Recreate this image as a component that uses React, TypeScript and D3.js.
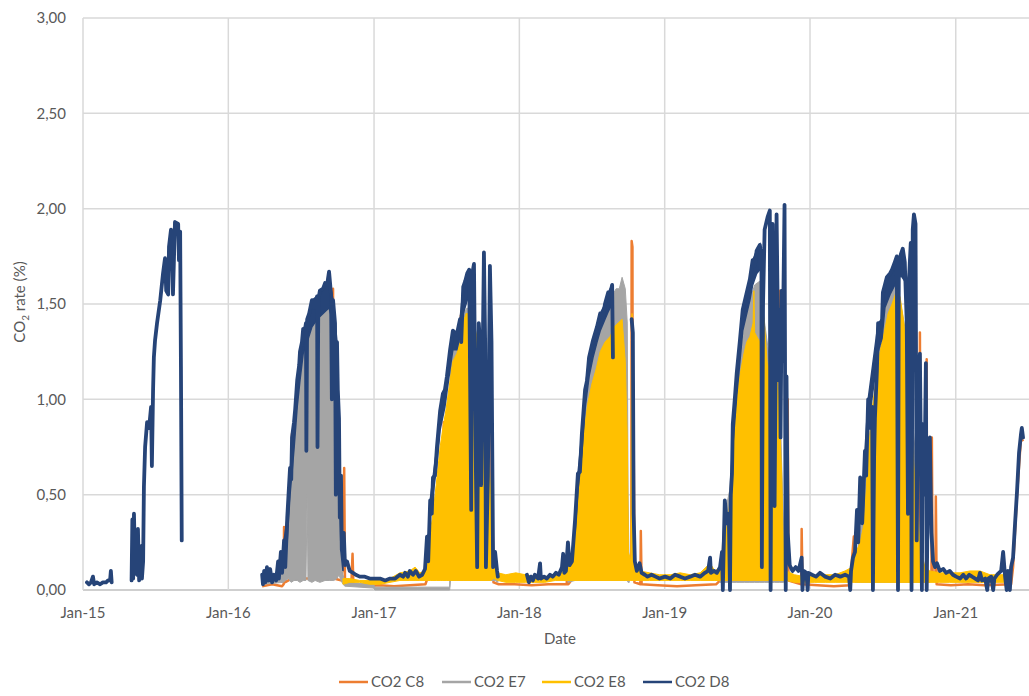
import * as d3 from 'd3';

type Pt = [string, number | null];
type Band = [string, number | null, number | null];

// legend / series names
const seriesNames = ['CO2 C8', 'CO2 E7', 'CO2 E8', 'CO2 D8'];
const seriesColors = ['#ED7D31', '#A5A5A5', '#FFC000', '#264478'];
const yTickValues = [0, 0.5, 1, 1.5, 2, 2.5, 3];
const xTickDates = ['2015-01-01', '2016-01-01', '2017-01-01', '2018-01-01', '2019-01-01', '2020-01-01', '2021-01-01'];

// CO2 C8 (orange): mostly a low baseline with a few spikes showing
const orangeC8: Pt[] = [
  ['2016-03-26', 0.02], ['2016-04-20', 0.03], ['2016-05-15', 0.02], ['2016-05-19', 0.03], ['2016-05-20', 0.33], ['2016-05-22', 0.04],
  ['2016-06-08', 0.06], ['2016-06-09', 0.82], ['2016-06-11', 0.06], ['2016-09-18', 0.06], ['2016-09-20', 1.58], ['2016-09-22', 0.06],
  ['2016-10-12', 0.05], ['2016-10-14', 0.55], ['2016-10-16', 0.10], ['2016-10-18', 0.64], ['2016-10-20', 0.04], ['2016-11-05', 0.03],
  ['2016-11-08', 0.19], ['2016-11-10', 0.03], ['2016-12-10', 0.02], ['2017-01-15', 0.025], ['2017-02-20', 0.02], ['2017-04-01', 0.025],
  ['2017-05-10', 0.03], ['2017-05-15', 0.06], ['2017-06-24', 0.06], ['2017-06-25', 0.88], ['2017-06-27', 0.06], ['2017-08-06', 0.06],
  ['2017-08-07', 1.44], ['2017-08-09', 0.06], ['2017-10-16', 0.06], ['2017-10-17', 1.12], ['2017-10-19', 0.06], ['2017-10-25', 0.06],
  ['2017-10-26', 0.35], ['2017-10-28', 0.04], ['2017-11-10', 0.03], ['2017-12-20', 0.03], ['2018-02-01', 0.025], ['2018-03-15', 0.03],
  ['2018-04-30', 0.03], ['2018-05-02', 0.25], ['2018-05-04', 0.03], ['2018-05-15', 0.06], ['2018-10-09', 0.06], ['2018-10-10', 1.83],
  ['2018-10-12', 1.80], ['2018-10-13', 0.06], ['2018-10-15', 0.79], ['2018-10-17', 0.04], ['2018-11-01', 0.03], ['2018-11-02', 0.31],
  ['2018-11-04', 0.03], ['2018-12-15', 0.025], ['2019-02-01', 0.02], ['2019-03-20', 0.025], ['2019-05-10', 0.03], ['2019-05-25', 0.06],
  ['2019-09-28', 0.06], ['2019-09-29', 1.73], ['2019-09-30', 0.06], ['2019-10-16', 0.06], ['2019-10-17', 1.57], ['2019-10-18', 0.06],
  ['2019-11-05', 0.28], ['2019-11-06', 1.00], ['2019-11-08', 0.05], ['2019-12-10', 0.03], ['2019-12-11', 0.32], ['2019-12-13', 0.03],
  ['2020-01-20', 0.025], ['2020-03-01', 0.02], ['2020-04-10', 0.025], ['2020-04-20', 0.28], ['2020-04-22', 0.06], ['2020-09-24', 0.06],
  ['2020-09-25', 1.00], ['2020-09-27', 0.06], ['2020-10-02', 0.06], ['2020-10-03', 1.35], ['2020-10-05', 0.06], ['2020-10-19', 0.06],
  ['2020-10-20', 1.21], ['2020-10-21', 0.06], ['2020-11-01', 0.05], ['2020-11-02', 0.80], ['2020-11-04', 0.05], ['2020-11-11', 0.05],
  ['2020-11-12', 0.49], ['2020-11-14', 0.03], ['2020-12-20', 0.025], ['2021-02-01', 0.03], ['2021-03-15', 0.025], ['2021-05-20', 0.03],
  ['2021-05-25', 0.12], ['2021-06-04', 0.50], ['2021-06-14', 0.80], ['2021-06-19', 0.78],
];

// CO2 E7 (grey): daily swing, kept as [date, low, high]
const grayE7: Band[] = [
  ['2016-03-26', 0.03, 0.06], ['2016-05-18', 0.04, 0.10], ['2016-05-23', 0.05, 0.22], ['2016-05-31', 0.06, 0.45], ['2016-06-07', 0.04, 0.58],
  ['2016-06-14', 0.05, 0.75], ['2016-06-22', 0.05, 0.96], ['2016-06-29', 0.04, 1.10], ['2016-07-07', 0.05, 1.24], ['2016-07-14', 0.05, 1.30],
  ['2016-07-17', 0.50, 1.32], ['2016-07-19', 0.05, 1.33], ['2016-07-29', 0.04, 1.38], ['2016-08-06', 0.05, 1.42], ['2016-08-18', 0.04, 1.44],
  ['2016-08-31', 0.05, 1.47], ['2016-09-12', 0.05, 1.48], ['2016-09-22', 0.05, 1.40], ['2016-09-30', 0.06, 1.10], ['2016-10-05', 0.08, 0.60],
  ['2016-10-10', 0.05, 0.25], ['2016-10-15', 0.03, 0.08], ['2016-10-20', 0.02, 0.04], ['2016-12-31', 0.01, 0.03], ['2017-01-03', 0.0, 0.015],
  ['2017-04-20', 0.0, 0.015], ['2017-07-10', 0.0, 0.015], ['2017-07-12', 0.05, 1.20], ['2017-07-18', 0.05, 1.28], ['2017-07-28', 0.05, 1.30],
  ['2017-08-05', 0.05, 1.36], ['2017-08-13', 0.05, 1.45], ['2017-08-23', 0.05, 1.48], ['2017-08-30', 0.05, 1.45], ['2017-09-12', 0.05, 1.38],
  ['2017-09-24', 0.05, 1.20], ['2017-10-09', 0.05, 0.90], ['2017-10-21', 0.05, 0.50], ['2017-11-01', 0.05, 0.12], ['2017-11-08', 0.04, 0.07],
  ['2017-11-20', null, null],
  ['2018-05-03', 0.04, 0.10], ['2018-05-21', 0.05, 0.30], ['2018-05-28', 0.05, 0.52], ['2018-06-07', 0.05, 0.72], ['2018-06-17', 0.05, 0.98],
  ['2018-06-27', 0.05, 1.14], ['2018-07-10', 0.05, 1.26], ['2018-07-23', 0.05, 1.36], ['2018-08-04', 0.05, 1.42], ['2018-08-17', 0.05, 1.48],
  ['2018-08-24', 0.05, 1.55], ['2018-09-01', 0.05, 1.58], ['2018-09-09', 0.05, 1.58], ['2018-09-16', 0.05, 1.64], ['2018-09-24', 0.05, 1.58],
  ['2018-09-29', 0.05, 1.40], ['2018-10-01', 0.04, 0.50], ['2018-10-04', 0.04, 0.08], ['2018-10-20', null, null],
  ['2019-05-20', 0.04, 0.10], ['2019-06-01', 0.04, 0.40], ['2019-06-13', 0.04, 0.52], ['2019-06-21', 0.04, 0.76], ['2019-07-01', 0.04, 1.04],
  ['2019-07-09', 0.04, 1.22], ['2019-07-21', 0.04, 1.42], ['2019-08-03', 0.04, 1.52], ['2019-08-15', 0.04, 1.60], ['2019-08-28', 0.04, 1.62],
  ['2019-09-09', 0.04, 1.40], ['2019-09-22', 0.04, 1.20], ['2019-10-04', 0.04, 1.20], ['2019-10-17', 0.04, 1.00], ['2019-10-27', 0.04, 0.30],
  ['2019-11-01', 0.04, 0.08], ['2019-11-20', null, null],
  ['2020-04-23', 0.04, 0.10], ['2020-05-06', 0.04, 0.30], ['2020-05-18', 0.04, 0.55], ['2020-05-31', 0.04, 0.85], ['2020-06-12', 0.04, 1.05],
  ['2020-06-20', 0.04, 1.24], ['2020-06-30', 0.04, 1.30], ['2020-07-10', 0.04, 1.55], ['2020-07-20', 0.04, 1.58], ['2020-08-01', 0.04, 1.60],
  ['2020-08-14', 0.04, 1.52], ['2020-08-26', 0.04, 1.38], ['2020-09-08', 0.04, 1.05], ['2020-09-20', 0.04, 0.75], ['2020-10-03', 0.04, 0.25],
  ['2020-10-15', 0.04, 0.12], ['2020-10-28', 0.04, 0.08],
];

// CO2 E8 (yellow): [date, low, high]
const yellowE8: Band[] = [
  ['2016-10-15', 0.03, 0.06], ['2016-11-01', 0.04, 0.06], ['2016-11-26', 0.04, 0.05], ['2016-12-21', 0.03, 0.05], ['2017-01-16', 0.03, 0.05],
  ['2017-02-10', 0.04, 0.06], ['2017-03-07', 0.05, 0.09], ['2017-04-01', 0.05, 0.10], ['2017-04-14', 0.05, 0.12], ['2017-04-26', 0.05, 0.09],
  ['2017-05-09', 0.05, 0.10], ['2017-05-16', 0.05, 0.25], ['2017-05-22', 0.05, 0.30], ['2017-05-29', 0.05, 0.40], ['2017-06-06', 0.05, 0.55],
  ['2017-06-16', 0.05, 0.75], ['2017-06-23', 0.05, 0.85], ['2017-07-01', 0.05, 0.95], ['2017-07-11', 0.05, 1.10], ['2017-07-18', 0.05, 1.20],
  ['2017-07-28', 0.05, 1.24], ['2017-08-05', 0.05, 1.30], ['2017-08-13', 0.05, 1.40], ['2017-08-20', 0.05, 1.45], ['2017-08-30', 0.05, 1.45],
  ['2017-09-09', 0.05, 1.40], ['2017-09-19', 0.05, 1.30], ['2017-09-29', 0.05, 1.10], ['2017-10-12', 0.05, 0.90], ['2017-10-21', 0.05, 0.50],
  ['2017-10-29', 0.06, 0.15], ['2017-11-08', 0.05, 0.09], ['2017-11-28', 0.04, 0.08], ['2017-12-23', 0.04, 0.09], ['2018-01-16', 0.04, 0.08],
  ['2018-02-09', 0.04, 0.07], ['2018-03-06', 0.04, 0.07], ['2018-04-01', 0.05, 0.08], ['2018-04-26', 0.05, 0.10], ['2018-05-08', 0.05, 0.14],
  ['2018-05-16', 0.05, 0.25], ['2018-05-23', 0.05, 0.40], ['2018-06-02', 0.05, 0.62], ['2018-06-12', 0.05, 0.82], ['2018-06-22', 0.05, 0.98],
  ['2018-07-02', 0.05, 1.08], ['2018-07-13', 0.05, 1.16], ['2018-07-23', 0.05, 1.25], ['2018-08-04', 0.05, 1.30], ['2018-08-17', 0.05, 1.33],
  ['2018-08-27', 0.05, 1.38], ['2018-09-06', 0.05, 1.40], ['2018-09-16', 0.05, 1.42], ['2018-09-24', 0.05, 1.20], ['2018-09-29', 0.05, 0.80],
  ['2018-10-02', 0.05, 0.20], ['2018-10-08', 0.05, 0.15], ['2018-10-11', 0.05, 1.45], ['2018-10-14', 0.05, 0.15], ['2018-10-30', 0.05, 0.10],
  ['2018-11-24', 0.05, 0.09], ['2018-12-19', 0.05, 0.08], ['2019-01-15', 0.05, 0.08], ['2019-02-09', 0.05, 0.09], ['2019-03-06', 0.05, 0.08],
  ['2019-03-31', 0.05, 0.09], ['2019-04-25', 0.05, 0.14], ['2019-05-07', 0.05, 0.10], ['2019-05-20', 0.05, 0.12], ['2019-06-01', 0.05, 0.25],
  ['2019-06-11', 0.05, 0.40], ['2019-06-19', 0.05, 0.60], ['2019-06-26', 0.05, 0.85], ['2019-07-04', 0.05, 1.05], ['2019-07-11', 0.05, 1.15],
  ['2019-07-19', 0.05, 1.24], ['2019-07-26', 0.05, 1.30], ['2019-08-03', 0.05, 1.33], ['2019-08-11', 0.05, 1.40], ['2019-08-13', 0.05, 1.57],
  ['2019-08-15', 0.05, 1.35], ['2019-08-28', 0.05, 1.30], ['2019-09-07', 0.05, 1.43], ['2019-09-17', 0.05, 1.15], ['2019-09-27', 0.05, 1.25],
  ['2019-10-07', 0.05, 1.29], ['2019-10-14', 0.05, 1.00], ['2019-10-22', 0.05, 0.60], ['2019-10-27', 0.05, 0.15], ['2019-11-03', 0.05, 0.10],
  ['2019-11-23', 0.04, 0.08], ['2019-12-18', 0.04, 0.07], ['2020-01-13', 0.04, 0.07], ['2020-02-08', 0.04, 0.08], ['2020-03-04', 0.04, 0.08],
  ['2020-03-29', 0.04, 0.10], ['2020-04-16', 0.04, 0.12], ['2020-04-26', 0.04, 0.20], ['2020-05-06', 0.04, 0.25], ['2020-05-16', 0.04, 0.35],
  ['2020-05-26', 0.04, 0.70], ['2020-06-05', 0.04, 0.95], ['2020-06-15', 0.04, 1.10], ['2020-06-25', 0.04, 1.25], ['2020-07-05', 0.04, 1.35],
  ['2020-07-15', 0.04, 1.45], ['2020-07-25', 0.04, 1.50], ['2020-08-04', 0.04, 1.56], ['2020-08-14', 0.04, 1.54], ['2020-08-24', 0.04, 1.40],
  ['2020-09-03', 0.04, 1.10], ['2020-09-13', 0.04, 0.80], ['2020-09-23', 0.04, 0.50], ['2020-10-03', 0.04, 0.25], ['2020-10-15', 0.04, 0.12],
  ['2020-10-28', 0.04, 0.10], ['2020-11-22', 0.04, 0.09], ['2020-12-17', 0.04, 0.09], ['2021-01-12', 0.04, 0.09], ['2021-02-06', 0.04, 0.10],
  ['2021-03-03', 0.04, 0.10], ['2021-03-28', 0.04, 0.08], ['2021-04-22', 0.04, 0.08], ['2021-05-17', 0.04, 0.08],
];

// CO2 D8 (navy) trace, null = no data
const navyD8: Pt[] = [
  ['2015-01-11', 0.04], ['2015-01-16', 0.03], ['2015-01-21', 0.04], ['2015-01-26', 0.07], ['2015-01-29', 0.03], ['2015-02-05', 0.04],
  ['2015-02-13', 0.03], ['2015-02-20', 0.04], ['2015-02-28', 0.04], ['2015-03-05', 0.05], ['2015-03-10', 0.05], ['2015-03-12', 0.10],
  ['2015-03-14', 0.04], ['2015-04-01', null],
  ['2015-05-03', 0.05], ['2015-05-05', 0.37], ['2015-05-07', 0.06], ['2015-05-09', 0.40], ['2015-05-12', 0.10], ['2015-05-17', 0.08],
  ['2015-05-19', 0.32], ['2015-05-22', 0.05], ['2015-05-25', 0.20], ['2015-05-27', 0.23], ['2015-05-29', 0.06], ['2015-06-01', 0.15],
  ['2015-06-03', 0.54], ['2015-06-06', 0.75], ['2015-06-11', 0.88], ['2015-06-16', 0.85], ['2015-06-21', 0.96], ['2015-06-23', 0.65],
  ['2015-06-26', 1.05], ['2015-06-28', 1.22], ['2015-07-01', 1.31], ['2015-07-06', 1.40], ['2015-07-14', 1.52], ['2015-07-21', 1.66],
  ['2015-07-26', 1.74], ['2015-07-29', 1.57], ['2015-08-03', 1.55], ['2015-08-05', 1.80], ['2015-08-10', 1.89], ['2015-08-13', 1.73],
  ['2015-08-15', 1.55], ['2015-08-20', 1.93], ['2015-08-28', 1.92], ['2015-08-30', 1.73], ['2015-09-02', 1.88], ['2015-09-03', 1.52],
  ['2015-09-04', 1.17], ['2015-09-06', 0.26], ['2015-12-01', null],
  ['2016-03-26', 0.08], ['2016-03-28', 0.03], ['2016-03-31', 0.10], ['2016-04-03', 0.04], ['2016-04-07', 0.12], ['2016-04-11', 0.05],
  ['2016-04-15', 0.11], ['2016-04-20', 0.04], ['2016-04-25', 0.08], ['2016-04-30', 0.05], ['2016-05-05', 0.15], ['2016-05-07', 0.06],
  ['2016-05-12', 0.20], ['2016-05-15', 0.09], ['2016-05-20', 0.26], ['2016-05-23', 0.12], ['2016-05-28', 0.38], ['2016-06-04', 0.64],
  ['2016-06-07', 0.58], ['2016-06-09', 0.80], ['2016-06-14', 0.88], ['2016-06-17', 0.95], ['2016-06-22', 1.10], ['2016-06-27', 1.18],
  ['2016-06-29', 1.25], ['2016-07-04', 1.30], ['2016-07-07', 1.37], ['2016-07-09', 1.33], ['2016-07-14', 1.40], ['2016-07-15', 0.73],
  ['2016-07-17', 1.42], ['2016-07-22', 1.45], ['2016-07-29', 1.52], ['2016-08-03', 1.48], ['2016-08-11', 1.54], ['2016-08-12', 0.75],
  ['2016-08-14', 1.52], ['2016-08-18', 1.57], ['2016-08-26', 1.58], ['2016-08-31', 1.61], ['2016-09-05', 1.60], ['2016-09-10', 1.67],
  ['2016-09-15', 1.55], ['2016-09-17', 1.00], ['2016-09-20', 1.52], ['2016-09-25', 1.40], ['2016-09-27', 0.50], ['2016-09-30', 1.30],
  ['2016-10-02', 1.05], ['2016-10-05', 0.90], ['2016-10-07', 0.38], ['2016-10-10', 0.60], ['2016-10-12', 0.21], ['2016-10-17', 0.30],
  ['2016-10-20', 0.13], ['2016-10-25', 0.15], ['2016-11-01', 0.10], ['2016-11-09', 0.09], ['2016-11-16', 0.08], ['2016-11-26', 0.07],
  ['2016-12-09', 0.07], ['2016-12-21', 0.06], ['2017-01-04', 0.06], ['2017-01-16', 0.06], ['2017-01-29', 0.05], ['2017-02-10', 0.06],
  ['2017-02-23', 0.06], ['2017-03-07', 0.08], ['2017-03-15', 0.07], ['2017-03-20', 0.09], ['2017-03-27', 0.07], ['2017-04-01', 0.10],
  ['2017-04-09', 0.08], ['2017-04-16', 0.10], ['2017-04-24', 0.07], ['2017-05-02', 0.08], ['2017-05-09', 0.11], ['2017-05-14', 0.28],
  ['2017-05-17', 0.15], ['2017-05-22', 0.47], ['2017-05-26', 0.40], ['2017-05-29', 0.59], ['2017-06-03', 0.60], ['2017-06-08', 0.75],
  ['2017-06-16', 0.94], ['2017-06-23', 1.03], ['2017-06-28', 1.05], ['2017-07-03', 1.12], ['2017-07-11', 1.26], ['2017-07-18', 1.36],
  ['2017-07-28', 1.34], ['2017-08-05', 1.42], ['2017-08-08', 1.30], ['2017-08-13', 1.59], ['2017-08-18', 1.62], ['2017-08-23', 1.66],
  ['2017-08-28', 1.68], ['2017-09-02', 0.42], ['2017-09-04', 1.65], ['2017-09-09', 1.71], ['2017-09-14', 0.60], ['2017-09-17', 0.12],
  ['2017-09-21', 1.40], ['2017-09-24', 1.30], ['2017-09-27', 0.55], ['2017-10-04', 1.77], ['2017-10-07', 1.30], ['2017-10-09', 0.12],
  ['2017-10-14', 0.60], ['2017-10-19', 1.70], ['2017-10-23', 1.30], ['2017-10-27', 0.12], ['2017-11-01', 0.20], ['2017-11-06', 0.10],
  ['2017-11-08', 0.07], ['2017-12-15', null],
  ['2018-01-20', 0.08], ['2018-01-25', 0.04], ['2018-01-30', 0.07], ['2018-02-04', 0.05], ['2018-02-09', 0.08], ['2018-02-17', 0.06],
  ['2018-02-22', 0.14], ['2018-02-24', 0.06], ['2018-03-04', 0.07], ['2018-03-11', 0.06], ['2018-03-19', 0.08], ['2018-03-26', 0.07],
  ['2018-04-03', 0.09], ['2018-04-10', 0.08], ['2018-04-18', 0.12], ['2018-04-21', 0.19], ['2018-04-24', 0.09], ['2018-04-28', 0.10],
  ['2018-05-03', 0.25], ['2018-05-07', 0.13], ['2018-05-13', 0.15], ['2018-05-21', 0.37], ['2018-05-28', 0.61], ['2018-06-02', 0.62],
  ['2018-06-07', 0.82], ['2018-06-15', 1.05], ['2018-06-20', 1.10], ['2018-06-25', 1.22], ['2018-07-05', 1.31], ['2018-07-15', 1.38],
  ['2018-07-23', 1.45], ['2018-07-30', 1.43], ['2018-08-04', 1.50], ['2018-08-12', 1.56], ['2018-08-17', 1.55], ['2018-08-22', 1.60],
  ['2018-08-24', 1.22], ['2018-09-01', null],
  ['2018-10-10', 1.42], ['2018-10-13', 1.35], ['2018-10-15', 0.40], ['2018-10-18', 0.15], ['2018-10-23', 0.10], ['2018-10-30', 0.14],
  ['2018-11-04', 0.09], ['2018-11-12', 0.08], ['2018-11-19', 0.07], ['2018-11-29', 0.08], ['2018-12-09', 0.07], ['2018-12-19', 0.06],
  ['2019-01-02', 0.07], ['2019-01-15', 0.06], ['2019-01-27', 0.08], ['2019-02-09', 0.07], ['2019-02-21', 0.06], ['2019-03-06', 0.07],
  ['2019-03-18', 0.08], ['2019-03-31', 0.07], ['2019-04-12', 0.09], ['2019-04-20', 0.10], ['2019-04-25', 0.17], ['2019-04-27', 0.09],
  ['2019-05-05', 0.10], ['2019-05-12', 0.09], ['2019-05-20', 0.12], ['2019-05-25', 0.20], ['2019-05-27', 0.0], ['2019-05-30', 0.30],
  ['2019-06-01', 0.47], ['2019-06-06', 0.35], ['2019-06-11', 0.40], ['2019-06-14', 0.0], ['2019-06-16', 0.50], ['2019-06-19', 0.61],
  ['2019-06-21', 0.87], ['2019-06-26', 1.00], ['2019-07-01', 1.14], ['2019-07-09', 1.31], ['2019-07-16', 1.47], ['2019-07-26', 1.56],
  ['2019-08-03', 1.63], ['2019-08-10', 1.73], ['2019-08-15', 1.70], ['2019-08-20', 1.78], ['2019-08-28', 1.81], ['2019-09-01', 1.75],
  ['2019-09-02', 0.12], ['2019-09-05', 1.50], ['2019-09-09', 1.89], ['2019-09-17', 1.96], ['2019-09-22', 1.99], ['2019-09-24', 0.0],
  ['2019-09-27', 1.50], ['2019-09-29', 1.92], ['2019-10-02', 1.20], ['2019-10-04', 0.44], ['2019-10-07', 1.30], ['2019-10-09', 1.97],
  ['2019-10-14', 1.10], ['2019-10-17', 1.47], ['2019-10-19', 0.80], ['2019-10-22', 1.57], ['2019-10-24', 1.20], ['2019-10-29', 2.02],
  ['2019-11-01', 0.0], ['2019-11-03', 1.12], ['2019-11-06', 0.30], ['2019-11-11', 0.13], ['2019-11-18', 0.10], ['2019-11-26', 0.12],
  ['2019-12-03', 0.10], ['2019-12-11', 0.17], ['2019-12-13', 0.0], ['2019-12-16', 0.10], ['2019-12-23', 0.09], ['2019-12-26', 0.0],
  ['2019-12-28', 0.09], ['2020-01-06', 0.08], ['2020-01-16', 0.07], ['2020-01-26', 0.09], ['2020-02-08', 0.07], ['2020-02-21', 0.06],
  ['2020-03-04', 0.08], ['2020-03-17', 0.07], ['2020-03-29', 0.08], ['2020-04-08', 0.07], ['2020-04-11', 0.0], ['2020-04-13', 0.10],
  ['2020-04-18', 0.17], ['2020-04-23', 0.20], ['2020-04-28', 0.42], ['2020-05-01', 0.25], ['2020-05-06', 0.59], ['2020-05-11', 0.35],
  ['2020-05-13', 0.45], ['2020-05-18', 0.73], ['2020-05-21', 0.60], ['2020-05-26', 1.00], ['2020-05-31', 0.85], ['2020-06-05', 0.96],
  ['2020-06-07', 0.0], ['2020-06-10', 0.70], ['2020-06-12', 0.90], ['2020-06-17', 1.15], ['2020-06-20', 1.40], ['2020-06-25', 1.38],
  ['2020-06-30', 1.42], ['2020-07-02', 1.56], ['2020-07-07', 1.60], ['2020-07-12', 1.64], ['2020-07-20', 1.66], ['2020-07-25', 1.68],
  ['2020-08-01', 1.72], ['2020-08-06', 1.75], ['2020-08-09', 0.0], ['2020-08-11', 1.70], ['2020-08-16', 1.76], ['2020-08-21', 1.79],
  ['2020-08-26', 1.72], ['2020-08-31', 1.40], ['2020-09-03', 0.40], ['2020-09-05', 1.60], ['2020-09-10', 1.82], ['2020-09-12', 0.0],
  ['2020-09-15', 1.89], ['2020-09-18', 1.97], ['2020-09-22', 1.92], ['2020-09-25', 0.26], ['2020-09-28', 1.00], ['2020-10-03', 1.24],
  ['2020-10-06', 0.60], ['2020-10-08', 0.0], ['2020-10-10', 0.87], ['2020-10-14', 0.50], ['2020-10-18', 1.19], ['2020-10-20', 0.0],
  ['2020-10-23', 0.50], ['2020-10-28', 0.80], ['2020-11-01', 0.30], ['2020-11-05', 0.15], ['2020-11-10', 0.12], ['2020-11-15', 0.14],
  ['2020-11-22', 0.10], ['2020-12-01', 0.11], ['2020-12-08', 0.09], ['2020-12-17', 0.10], ['2020-12-25', 0.08], ['2021-01-02', 0.07],
  ['2021-01-12', 0.06], ['2021-01-20', 0.08], ['2021-01-27', 0.06], ['2021-02-04', 0.08], ['2021-02-11', 0.07], ['2021-02-19', 0.06],
  ['2021-02-26', 0.05], ['2021-03-03', 0.09], ['2021-03-08', 0.05], ['2021-03-16', 0.06], ['2021-03-21', 0.0], ['2021-03-24', 0.06],
  ['2021-03-31', 0.07], ['2021-04-05', 0.0], ['2021-04-08', 0.06], ['2021-04-15', 0.08], ['2021-04-25', 0.10], ['2021-04-30', 0.20],
  ['2021-05-05', 0.07], ['2021-05-09', 0.0], ['2021-05-12', 0.10], ['2021-05-17', 0.0], ['2021-05-20', 0.12], ['2021-05-25', 0.17],
  ['2021-05-30', 0.35], ['2021-06-04', 0.52], ['2021-06-09', 0.72], ['2021-06-14', 0.82], ['2021-06-16', 0.85], ['2021-06-19', 0.80],
];

// thick part of the navy trace during the growing seasons: [date, low, high]
const navyD8Band: Band[] = [
  ['2016-05-20', 0.14, 0.26], ['2016-05-28', 0.26, 0.38], ['2016-06-04', 0.50, 0.62], ['2016-06-14', 0.74, 0.88], ['2016-06-22', 0.96, 1.10],
  ['2016-06-29', 1.10, 1.24], ['2016-07-07', 1.24, 1.36], ['2016-07-17', 1.30, 1.42], ['2016-07-29', 1.38, 1.52], ['2016-08-11', 1.42, 1.54],
  ['2016-08-26', 1.45, 1.58], ['2016-09-10', 1.48, 1.64], ['2016-09-20', 1.40, 1.52], ['2016-09-30', 1.10, 1.30], ['2016-10-05', 0.60, 0.90],
  ['2016-10-10', 0.20, 0.45], ['2016-10-15', 0.10, 0.22], ['2016-11-01', null, null],
  ['2017-05-22', 0.38, 0.47], ['2017-05-29', 0.50, 0.59], ['2017-06-08', 0.66, 0.75], ['2017-06-16', 0.84, 0.94], ['2017-06-28', 0.96, 1.05],
  ['2017-07-11', 1.16, 1.26], ['2017-07-18', 1.26, 1.36], ['2017-07-28', 1.26, 1.34], ['2017-08-05', 1.33, 1.42], ['2017-08-13', 1.45, 1.59],
  ['2017-08-23', 1.52, 1.66], ['2017-08-28', 1.55, 1.68], ['2017-09-10', null, null],
  ['2018-05-21', 0.30, 0.37], ['2018-05-28', 0.52, 0.61], ['2018-06-07', 0.72, 0.82], ['2018-06-15', 0.95, 1.05], ['2018-06-25', 1.12, 1.22],
  ['2018-07-05', 1.22, 1.31], ['2018-07-15', 1.30, 1.38], ['2018-07-23', 1.36, 1.45], ['2018-08-04', 1.42, 1.50], ['2018-08-12', 1.46, 1.56],
  ['2018-08-22', 1.50, 1.60], ['2018-09-10', null, null],
  ['2019-06-16', 0.40, 0.50], ['2019-06-21', 0.75, 0.87], ['2019-07-01', 1.02, 1.14], ['2019-07-09', 1.20, 1.31], ['2019-07-16', 1.36, 1.47],
  ['2019-07-26', 1.45, 1.56], ['2019-08-03', 1.52, 1.63], ['2019-08-10', 1.60, 1.73], ['2019-08-20', 1.66, 1.78], ['2019-08-28', 1.68, 1.81],
  ['2019-09-10', null, null],
  ['2020-05-18', 0.62, 0.73], ['2020-05-26', 0.85, 1.00], ['2020-06-20', 1.25, 1.40], ['2020-06-30', 1.32, 1.42], ['2020-07-07', 1.48, 1.60],
  ['2020-07-20', 1.55, 1.66], ['2020-08-01', 1.60, 1.72], ['2020-08-16', 1.65, 1.76], ['2020-08-26', 1.62, 1.72],
];

const W = 1029, H = 696;
const left = 83, right = 1029, top = 18, bottom = 590;
const font = "Lato, 'Open Sans', sans-serif";
const textColor = '#595959';
const gridColor = '#d9d9d9';

const parse = d3.utcParse('%Y-%m-%d');

export default function App() {
  const x = d3.scaleUtc()
    .domain([parse('2015-01-01') as Date, parse('2021-07-04') as Date])
    .range([left, right]);
  const y = d3.scaleLinear().domain([0, 3]).range([bottom, top]);

  const line = d3.line<Pt>()
    .defined(d => d[1] != null)
    .x(d => x(parse(d[0]) as Date))
    .y(d => y(d[1] as number));

  const area = d3.area<Band>()
    .defined(d => d[1] != null)
    .x(d => x(parse(d[0]) as Date))
    .y0(d => y(d[1] as number))
    .y1(d => y(d[2] as number));

  const fmtY = (v: number) => d3.format('.2f')(v).replace('.', ',');
  const fmtX = d3.utcFormat('%b-%y');

  const legendX = [339, 442, 542, 643];

  return (
    <svg width={W} height={H} style={{ position: 'absolute', left: 0, top: 0, background: '#fff' }}
      fontFamily={font}>
      {/* grid */}
      {yTickValues.map(v => (
        <line key={'gy' + v} x1={left} x2={right} y1={y(v)} y2={y(v)}
          stroke={v === 0 ? '#bfbfbf' : gridColor} strokeWidth={1.5} />
      ))}
      {xTickDates.map(s => (
        <line key={'gx' + s} x1={x(parse(s) as Date)} x2={x(parse(s) as Date)} y1={top} y2={bottom}
          stroke={gridColor} strokeWidth={1.5} />
      ))}

      {/* series */}
      <path d={line(orangeC8) || ''} fill="none" stroke={seriesColors[0]} strokeWidth={2.5} strokeLinejoin="round" />
      <path d={area(grayE7) || ''} fill={seriesColors[1]} stroke={seriesColors[1]} strokeWidth={1} />
      <path d={area(yellowE8) || ''} fill={seriesColors[2]} stroke={seriesColors[2]} strokeWidth={1} />
      <path d={area(navyD8Band) || ''} fill={seriesColors[3]} stroke={seriesColors[3]} strokeWidth={1.5} />
      <path d={line(navyD8) || ''} fill="none" stroke={seriesColors[3]} strokeWidth={3.8} strokeLinejoin="round" strokeLinecap="round" />

      {/* y axis labels */}
      {yTickValues.map(v => (
        <text key={'ty' + v} x={66} y={y(v)} dy="0.35em" textAnchor="end" fontSize={15} fill={textColor}>
          {fmtY(v)}
        </text>
      ))}
      {/* x axis labels */}
      {xTickDates.map(s => (
        <text key={'tx' + s} x={x(parse(s) as Date)} y={618} textAnchor="middle" fontSize={15} fill={textColor}>
          {fmtX(parse(s) as Date)}
        </text>
      ))}

      <text x={560} y={644} textAnchor="middle" fontSize={15} fill={textColor}>Date</text>
      <text transform="translate(25,302) rotate(-90)" textAnchor="middle" fontSize={15} fill={textColor}>
        CO<tspan fontSize={10} dy={4}>2</tspan><tspan dy={-4}> rate (%)</tspan>
      </text>

      {/* legend */}
      {seriesNames.map((n, i) => (
        <g key={n}>
          <line x1={legendX[i]} x2={legendX[i] + 29} y1={682} y2={682} stroke={seriesColors[i]} strokeWidth={2.5} />
          <text x={legendX[i] + 32} y={682} dy="0.35em" fontSize={15} fill={textColor}>{n}</text>
        </g>
      ))}
    </svg>
  );
}
